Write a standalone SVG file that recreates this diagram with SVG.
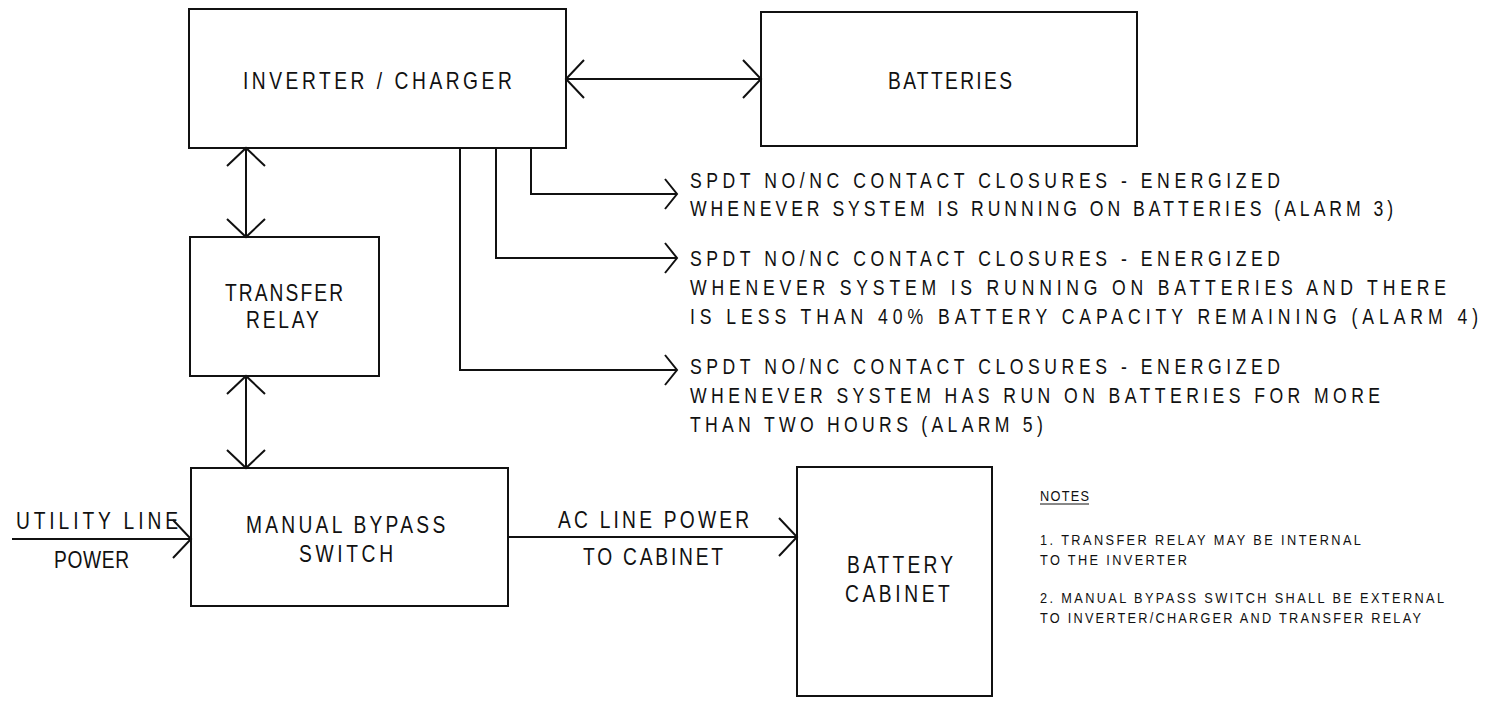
<svg xmlns="http://www.w3.org/2000/svg" width="1485" height="707" viewBox="0 0 1485 707">
<style>
.box{fill:none;stroke:#111;stroke-width:2}
.wire{fill:none;stroke:#111;stroke-width:2}
.lbl{font-family:"Liberation Sans",Arial,sans-serif;font-size:24px;fill:#111}
.alm{font-family:"Liberation Sans",Arial,sans-serif;font-size:22px;fill:#111}
.note{font-family:"Liberation Sans",Arial,sans-serif;font-size:15px;fill:#111}
</style>
<defs>
<marker id="ah" markerUnits="userSpaceOnUse" markerWidth="40" markerHeight="44" viewBox="-20 -22 40 44" refX="0" refY="0" orient="auto-start-reverse" overflow="visible">
<path d="M-18,-19 L0,0 L-18,19" fill="none" stroke="#111" stroke-width="2"/>
</marker>
<marker id="ahs" markerUnits="userSpaceOnUse" markerWidth="30" markerHeight="34" viewBox="-15 -17 30 34" refX="0" refY="0" orient="auto" overflow="visible">
<path d="M-12,-15 L0,0 L-12,15" fill="none" stroke="#111" stroke-width="2"/>
</marker>
</defs>
<rect width="1485" height="707" fill="#fff"/>

<g id="connectors">
<line class="wire" x1="566" y1="79" x2="761" y2="79" marker-start="url(#ah)" marker-end="url(#ah)"/>
<line class="wire" x1="246" y1="148" x2="246" y2="237" marker-start="url(#ah)" marker-end="url(#ah)"/>
<line class="wire" x1="246" y1="376" x2="246" y2="468" marker-start="url(#ah)" marker-end="url(#ah)"/>
<line class="wire" x1="12" y1="539" x2="191" y2="539" marker-end="url(#ah)"/>
<line class="wire" x1="508" y1="537" x2="797" y2="537" marker-end="url(#ah)"/>
<polyline class="wire" points="531,148 531,194 677,194" marker-end="url(#ahs)"/>
<polyline class="wire" points="496,148 496,258 677,258" marker-end="url(#ahs)"/>
<polyline class="wire" points="460,148 460,370 677,370" marker-end="url(#ahs)"/>
</g>

<g id="inverter">
<rect class="box" x="189" y="9" width="377" height="139"/>
<text class="lbl" transform="translate(243,89) scale(0.8,1)" textLength="336" lengthAdjust="spacing">INVERTER / CHARGER</text>
</g>
<g id="batteries">
<rect class="box" x="761" y="12" width="376" height="134"/>
<text class="lbl" transform="translate(888,89) scale(0.8,1)" textLength="155" lengthAdjust="spacing">BATTERIES</text>
</g>
<g id="transfer-relay">
<rect class="box" x="190" y="237" width="189" height="139"/>
<text class="lbl" transform="translate(225,301) scale(0.8,1)" textLength="147.5" lengthAdjust="spacing">TRANSFER</text>
<text class="lbl" transform="translate(246,328) scale(0.8,1)" textLength="91" lengthAdjust="spacing">RELAY</text>
</g>
<g id="bypass">
<rect class="box" x="191" y="468" width="317" height="138"/>
<text class="lbl" transform="translate(246,533) scale(0.8,1)" textLength="249" lengthAdjust="spacing">MANUAL BYPASS</text>
<text class="lbl" transform="translate(299,562) scale(0.8,1)" textLength="117.5" lengthAdjust="spacing">SWITCH</text>
</g>
<g id="battery-cabinet">
<rect class="box" x="797" y="467" width="195" height="229"/>
<text class="lbl" transform="translate(847,573) scale(0.8,1)" textLength="132.5" lengthAdjust="spacing">BATTERY</text>
<text class="lbl" transform="translate(845,602) scale(0.8,1)" textLength="131" lengthAdjust="spacing">CABINET</text>
</g>
<g id="utility">
<text class="lbl" transform="translate(16,529) scale(0.8,1)" textLength="202.5" lengthAdjust="spacing">UTILITY LINE</text>
<text class="lbl" transform="translate(54,568) scale(0.8,1)" textLength="94" lengthAdjust="spacing">POWER</text>
</g>
<g id="ac-line">
<text class="lbl" transform="translate(558,528) scale(0.8,1)" textLength="239" lengthAdjust="spacing">AC LINE POWER</text>
<text class="lbl" transform="translate(583,565) scale(0.8,1)" textLength="175" lengthAdjust="spacing">TO CABINET</text>
</g>
<g id="alarm3">
<text class="alm" transform="translate(690,188) scale(0.8,1)" textLength="737.5" lengthAdjust="spacing">SPDT NO/NC CONTACT CLOSURES - ENERGIZED</text>
<text class="alm" transform="translate(690,216) scale(0.8,1)" textLength="879" lengthAdjust="spacing">WHENEVER SYSTEM IS RUNNING ON BATTERIES (ALARM 3)</text>
</g>
<g id="alarm4">
<text class="alm" transform="translate(690,266) scale(0.8,1)" textLength="737.5" lengthAdjust="spacing">SPDT NO/NC CONTACT CLOSURES - ENERGIZED</text>
<text class="alm" transform="translate(690,295) scale(0.8,1)" textLength="945" lengthAdjust="spacing">WHENEVER SYSTEM IS RUNNING ON BATTERIES AND THERE</text>
<text class="alm" transform="translate(690,324) scale(0.8,1)" textLength="985" lengthAdjust="spacing">IS LESS THAN 40% BATTERY CAPACITY REMAINING (ALARM 4)</text>
</g>
<g id="alarm5">
<text class="alm" transform="translate(690,374) scale(0.8,1)" textLength="737.5" lengthAdjust="spacing">SPDT NO/NC CONTACT CLOSURES - ENERGIZED</text>
<text class="alm" transform="translate(690,403) scale(0.8,1)" textLength="862.5" lengthAdjust="spacing">WHENEVER SYSTEM HAS RUN ON BATTERIES FOR MORE</text>
<text class="alm" transform="translate(690,432) scale(0.8,1)" textLength="441" lengthAdjust="spacing">THAN TWO HOURS (ALARM 5)</text>
</g>
<g id="notes">
<text class="note" transform="translate(1040,501) scale(0.85,1)" textLength="57.6" lengthAdjust="spacing">NOTES</text>
<line x1="1040" y1="504" x2="1089" y2="504" stroke="#111" stroke-width="1"/>
<text class="note" transform="translate(1040,545) scale(0.85,1)" textLength="377.6" lengthAdjust="spacing">1. TRANSFER RELAY MAY BE INTERNAL</text>
<text class="note" transform="translate(1040,565) scale(0.85,1)" textLength="173" lengthAdjust="spacing">TO THE INVERTER</text>
<text class="note" transform="translate(1040,603) scale(0.85,1)" textLength="475.3" lengthAdjust="spacing">2. MANUAL BYPASS SWITCH SHALL BE EXTERNAL</text>
<text class="note" transform="translate(1040,623) scale(0.85,1)" textLength="448.2" lengthAdjust="spacing">TO INVERTER/CHARGER AND TRANSFER RELAY</text>
</g>
</svg>
